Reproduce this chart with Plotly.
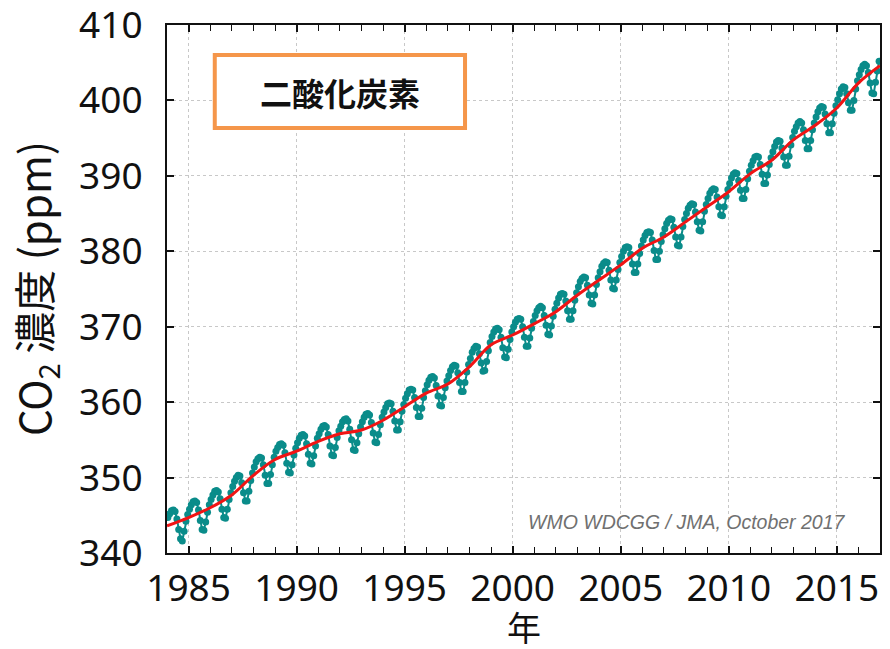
import plotly.graph_objects as go

# ---- data ----
first_year = 1984
last_year = 2016
month_numbers = list(range(1, 13))

# monthly global mean CO2 (ppm), Jan..Dec, one line per year 1984-2016
co2_monthly = [
    344.7, 345.2, 345.6, 345.7, 345.5, 344.5, 343.1, 341.9, 341.6, 342.9, 344.2, 345.1,  # 1984
    345.8, 346.4, 346.8, 346.9, 346.7, 345.7, 344.3, 343.1, 343.0, 344.1, 345.4, 346.4,  # 1985
    347.1, 347.7, 348.2, 348.3, 348.1, 347.2, 345.8, 344.7, 344.6, 345.8, 347.1, 348.0,  # 1986
    348.8, 349.5, 350.0, 350.3, 350.2, 349.3, 348.0, 346.9, 346.9, 348.2, 349.6, 350.6,  # 1987
    351.4, 352.1, 352.5, 352.7, 352.6, 351.7, 350.3, 349.2, 349.2, 350.4, 351.7, 352.7,  # 1988
    353.5, 354.0, 354.4, 354.5, 354.3, 353.3, 351.9, 350.7, 350.6, 351.7, 353.0, 353.9,  # 1989
    354.6, 355.2, 355.6, 355.7, 355.5, 354.5, 353.1, 351.9, 351.8, 352.9, 354.2, 355.2,  # 1990
    355.8, 356.4, 356.8, 356.9, 356.7, 355.7, 354.2, 353.0, 352.9, 354.0, 355.3, 356.2,  # 1991
    356.8, 357.4, 357.7, 357.8, 357.5, 356.4, 355.0, 353.7, 353.6, 354.6, 355.8, 356.7,  # 1992
    357.4, 358.0, 358.4, 358.5, 358.3, 357.3, 355.9, 354.7, 354.6, 355.7, 357.0, 358.0,  # 1993
    358.7, 359.3, 359.8, 359.9, 359.8, 358.8, 357.5, 356.3, 356.3, 357.4, 358.8, 359.7,  # 1994
    360.5, 361.1, 361.6, 361.7, 361.6, 360.6, 359.3, 358.1, 358.1, 359.2, 360.6, 361.5,  # 1995
    362.3, 362.9, 363.3, 363.4, 363.2, 362.2, 360.8, 359.6, 359.5, 360.6, 361.9, 362.8,  # 1996
    363.5, 364.2, 364.7, 364.9, 364.8, 363.9, 362.6, 361.4, 361.4, 362.6, 364.0, 365.0,  # 1997
    365.8, 366.6, 367.1, 367.4, 367.3, 366.4, 365.2, 364.1, 364.2, 365.4, 366.8, 367.9,  # 1998
    368.7, 369.3, 369.7, 369.8, 369.6, 368.6, 367.2, 366.0, 365.9, 367.0, 368.3, 369.3,  # 1999
    370.0, 370.6, 371.0, 371.1, 371.0, 370.0, 368.6, 367.4, 367.4, 368.5, 369.8, 370.7,  # 2000
    371.5, 372.1, 372.5, 372.7, 372.5, 371.5, 370.2, 369.0, 368.9, 370.1, 371.4, 372.3,  # 2001
    373.1, 373.8, 374.3, 374.4, 374.3, 373.4, 372.1, 371.0, 371.0, 372.1, 373.5, 374.5,  # 2002
    375.3, 376.0, 376.4, 376.6, 376.5, 375.5, 374.2, 373.1, 373.0, 374.2, 375.6, 376.5,  # 2003
    377.3, 378.0, 378.4, 378.6, 378.5, 377.5, 376.2, 375.1, 375.0, 376.2, 377.6, 378.5,  # 2004
    379.3, 380.0, 380.5, 380.6, 380.5, 379.6, 378.3, 377.2, 377.2, 378.3, 379.7, 380.7,  # 2005
    381.5, 382.1, 382.5, 382.6, 382.5, 381.5, 380.1, 378.9, 378.9, 380.0, 381.3, 382.2,  # 2006
    383.0, 383.7, 384.1, 384.3, 384.2, 383.2, 381.9, 380.8, 380.7, 381.9, 383.3, 384.2,  # 2007
    385.0, 385.7, 386.1, 386.3, 386.2, 385.2, 383.9, 382.8, 382.7, 383.9, 385.3, 386.2,  # 2008
    387.0, 387.7, 388.1, 388.3, 388.2, 387.2, 385.9, 384.8, 384.7, 385.9, 387.3, 388.2,  # 2009
    389.0, 389.7, 390.2, 390.4, 390.3, 389.4, 388.1, 387.0, 387.0, 388.2, 389.6, 390.6,  # 2010
    391.4, 392.0, 392.5, 392.6, 392.5, 391.5, 390.2, 389.0, 389.0, 390.1, 391.5, 392.4,  # 2011
    393.2, 393.9, 394.5, 394.7, 394.6, 393.7, 392.5, 391.4, 391.4, 392.6, 394.1, 395.1,  # 2012
    395.9, 396.5, 397.0, 397.2, 397.0, 396.1, 394.7, 393.6, 393.6, 394.7, 396.1, 397.0,  # 2013
    397.8, 398.5, 399.0, 399.2, 399.1, 398.2, 396.9, 395.7, 395.7, 396.9, 398.3, 399.3,  # 2014
    400.1, 400.9, 401.5, 401.8, 401.7, 400.9, 399.7, 398.7, 398.7, 400.0, 401.5, 402.6,  # 2015
    403.4, 404.1, 404.6, 404.8, 404.6, 403.7, 402.3, 401.0, 400.9, 402.4, 403.9, 405.2,  # 2016
]

# deseasonalised trend (red line), value at the start of each year
trend_years = list(range(1984, 2018))
trend_values = [
    343.6, 344.7, 346.0, 347.7, 350.3, 352.4, 353.5, 354.8, 355.8, 356.3,
    357.6, 359.4, 361.2, 362.4, 364.7, 367.6, 368.9, 370.4, 372.0, 374.2,
    376.2, 378.2, 380.4, 381.9, 383.9, 385.9, 387.9, 390.3, 392.1, 394.8,
    396.7, 399.0, 402.3, 404.6,
]

x_ticks = [1985, 1990, 1995, 2000, 2005, 2010, 2015]
y_ticks = [340, 350, 360, 370, 380, 390, 400, 410]

title_label = "二酸化炭素"
source_label = "WMO WDCGG / JMA, October 2017"
x_title = "年"
y_title = "CO<sub>2</sub> 濃度 (ppm)"

# decimal-year positions of the monthly values (mid-month)
month_x = [y + (m - 0.5) / 12 for y in range(first_year, last_year + 1) for m in month_numbers]

# ---- figure ----
TEAL = "#0a8c8a"
RED = "#f01414"
FONT = "Noto Sans, Liberation Sans, sans-serif"
CJK = "Noto Sans CJK JP, sans-serif"

fig = go.Figure()
fig.add_trace(go.Scatter(
    x=month_x, y=co2_monthly, mode="lines+markers",
    line=dict(color=TEAL, width=2),
    marker=dict(color=TEAL, size=7),
    showlegend=False, hoverinfo="skip",
))
fig.add_trace(go.Scatter(
    x=trend_years, y=trend_values, mode="lines",
    line=dict(color=RED, width=3, shape="spline", smoothing=1.0),
    showlegend=False, hoverinfo="skip",
))

axis_common = dict(
    showline=True, linecolor="#111", linewidth=2, mirror="allticks",
    ticks="inside", tickcolor="#111", tickwidth=1.5, ticklen=7,
    showgrid=True, gridcolor="#c8c8c8", griddash="dot", gridwidth=1,
    zeroline=False, automargin=False, ticklabeloverflow="allow",
    tickfont=dict(family=FONT, size=37, color="#111"),
)

fig.update_xaxes(
    **axis_common,
    range=[1984, 2017], tickvals=x_ticks, ticktext=[str(v) for v in x_ticks],
    minor=dict(dtick=1, tick0=1984, ticks="inside", ticklen=6, tickwidth=1.2,
               tickcolor="#111", showgrid=False),
    ticklabelstandoff=2,
)
fig.update_yaxes(
    **axis_common,
    range=[340, 410], tickvals=y_ticks, ticktext=[str(v) for v in y_ticks],
    ticklabelstandoff=15,
)

# label box
fig.add_shape(type="rect", xref="paper", yref="paper",
              x0=0.067, x1=0.418, y0=0.805, y1=0.943,
              line=dict(color="#f5964a", width=4), fillcolor="white", layer="above")
fig.add_annotation(xref="paper", yref="paper", x=0.2425, y=0.874,
                   xanchor="center", yanchor="middle",
                   text=f"<b>{title_label}</b>", showarrow=False,
                   font=dict(family=CJK, size=32, color="#111"))
fig.add_annotation(xref="paper", yref="paper", x=0.955, y=0.058,
                   xanchor="right", yanchor="middle",
                   text=f"<i>{source_label}</i>", showarrow=False,
                   font=dict(family="Liberation Sans, sans-serif", size=19.5, color="#707070"))

# axis titles
fig.add_annotation(xref="paper", yref="paper", x=0.5, y=-0.139,
                   xanchor="center", yanchor="middle", borderpad=0,
                   text=x_title, showarrow=False,
                   font=dict(family=CJK, size=34, color="#111"))
fig.add_annotation(xref="paper", yref="paper", x=-0.185, y=0.5,
                   xanchor="center", yanchor="middle", textangle=-90,
                   text=y_title, showarrow=False,
                   font=dict(family=CJK, size=42, color="#111"))

fig.update_layout(
    width=890, height=649,
    margin=dict(l=167, r=10, t=25, b=96),
    paper_bgcolor="white", plot_bgcolor="white",
)

fig.write_html("out.html", config={"displayModeBar": False},
               post_script="document.body.style.margin='0';")
